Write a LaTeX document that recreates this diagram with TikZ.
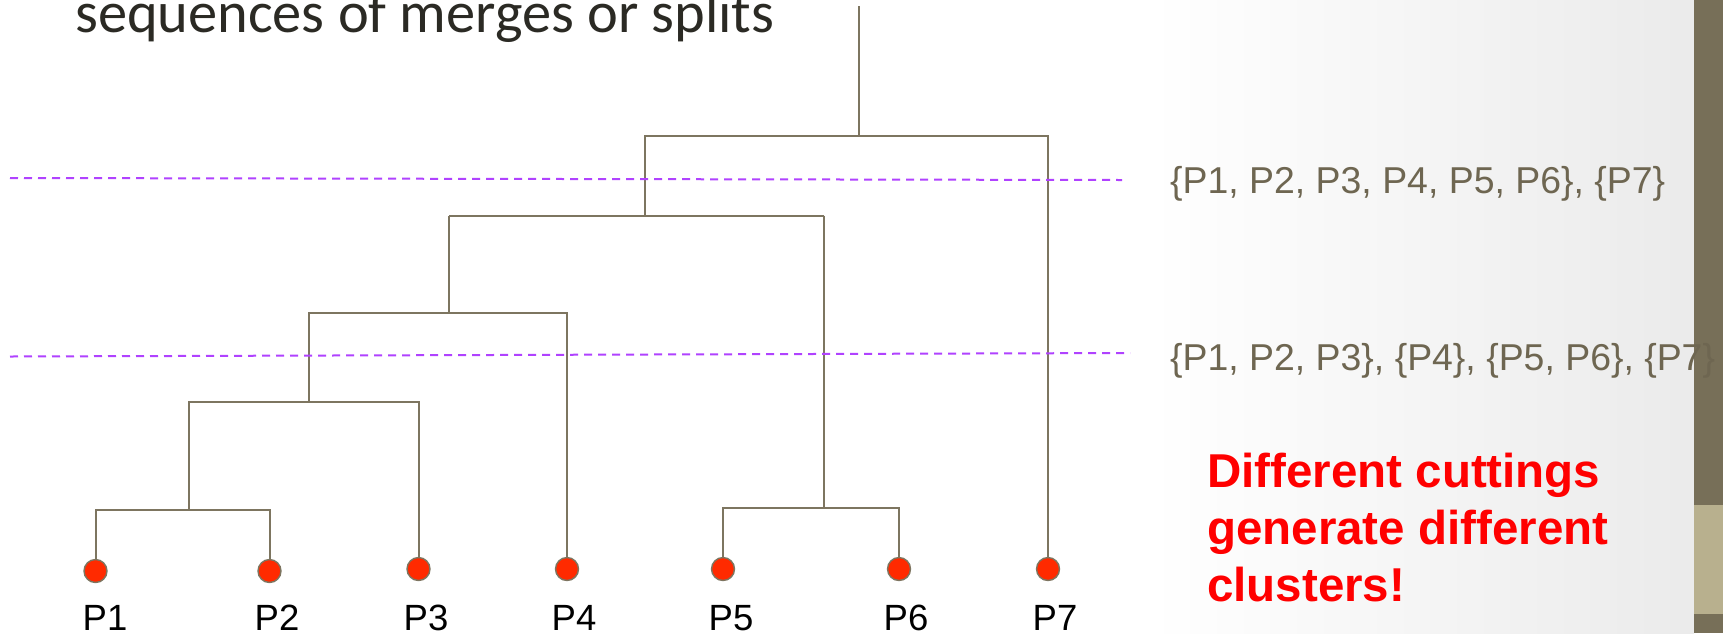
\documentclass[tikz,border=0pt]{standalone}
\usepackage{fontspec}
\setmainfont{Liberation Sans}
\newfontfamily\calib{Carlito}
\definecolor{treeline}{HTML}{7D7560}
\definecolor{dotred}{HTML}{FF2A00}
\definecolor{cutpurple}{HTML}{B042FF}
\definecolor{labelol}{HTML}{6E6651}
\definecolor{bardark}{HTML}{776F58}
\definecolor{bartan}{HTML}{B8B08E}
\definecolor{titletext}{HTML}{2B2A24}
\begin{document}
\begin{tikzpicture}[x=1pt,y=-1pt,
  tree/.style={draw=treeline,line width=2pt},
  leaf/.style={circle,fill=dotred,draw=treeline,line width=1.4pt,minimum size=23pt,inner sep=0pt},
  cut/.style={draw=cutpurple,line width=2pt,dash pattern=on 8pt off 6pt},
  ptlabel/.style={anchor=base,font=\fontsize{36.5}{40}\selectfont,text=black,inner sep=0pt},
  setlabel/.style={anchor=base west,font=\fontsize{37.4}{44}\selectfont,text=labelol,inner sep=0pt},
  msgline/.style={anchor=base west,inner sep=0pt,text=red,font=\bfseries\fontsize{47.5}{57}\selectfont}]
\useasboundingbox (0,0) rectangle (1723,633);
\fill[white] (0,0) rectangle (1723,633);
\shade[left color=white,right color=black!8] (1150,0) rectangle (1694,633);
\fill[bardark] (1694,0) rectangle (1723,505);
\fill[bartan] (1694,505) rectangle (1723,614);
\fill[bardark] (1694,614) rectangle (1723,633);

% title fragment
\node[anchor=base west,inner sep=0pt,font=\calib\fontsize{58.4}{70}\selectfont,text=titletext] (title) at (75,32) {sequences of merges or splits};

% leaves
\node[leaf] (p1) at (95.5,571) {};
\node[leaf] (p2) at (269.5,571) {};
\node[leaf] (p3) at (418.5,569) {};
\node[leaf] (p4) at (567,569) {};
\node[leaf] (p5) at (723,569) {};
\node[leaf] (p6) at (899,569) {};
\node[leaf] (p7) at (1048,569) {};

\node[ptlabel] (l1) at (105,630) {P1};
\node[ptlabel] (l2) at (277,630) {P2};
\node[ptlabel] (l3) at (426,630) {P3};
\node[ptlabel] (l4) at (574,630) {P4};
\node[ptlabel] (l5) at (731,630) {P5};
\node[ptlabel] (l6) at (906,630) {P6};
\node[ptlabel] (l7) at (1055,630) {P7};

% junction coordinates
\coordinate (root) at (859,6);
\coordinate (j7) at (859,135.5);
\coordinate (j6) at (645,215.5);
\coordinate (j56) at (824,508);
\coordinate (j4) at (449,312.5);
\coordinate (j3) at (309,402);
\coordinate (j12) at (189,510);

% tree
\draw[tree] (root) -- (j7);
\draw[tree] (p7.north) |- (j7) -| (j6 |- j7) -- (j6);
\draw[tree] (j4 |- j6) -- (j56 |- j6);
\draw[tree] (j4 |- j6) -- (j4);
\draw[tree] (j56 |- j6) -- (j56);
\draw[tree] (p5.north) |- (j56) -| (p6.north);
\draw[tree] (p4.north) |- (j4) -| (j3 |- j4) -- (j3);
\draw[tree] (p3.north) |- (j3) -| (j12 |- j3) -- (j12);
\draw[tree] (p1.north) |- (j12) -| (p2.north);

% cuts
\coordinate (c1a) at (10,178);
\coordinate (c1b) at (1122,180);
\coordinate (c2a) at (10,356.5);
\coordinate (c2b) at (1130,353);
\draw[cut] (c1a) -- (c1b);
\draw[cut] (c2a) -- (c2b);

\node[setlabel] (s1) at (1170,193) {\{P1, P2, P3, P4, P5, P6\}, \{P7\}};
\node[setlabel] (s2) at (1170,370) {\{P1, P2, P3\}, \{P4\}, \{P5, P6\}, \{P7\}};

\node[msgline] (msg1) at (1207,487) {Different cuttings};
\node[msgline] (msg2) at (1207,544) {generate different};
\node[msgline] (msg3) at (1207,601) {clusters!};
\end{tikzpicture}
\end{document}
